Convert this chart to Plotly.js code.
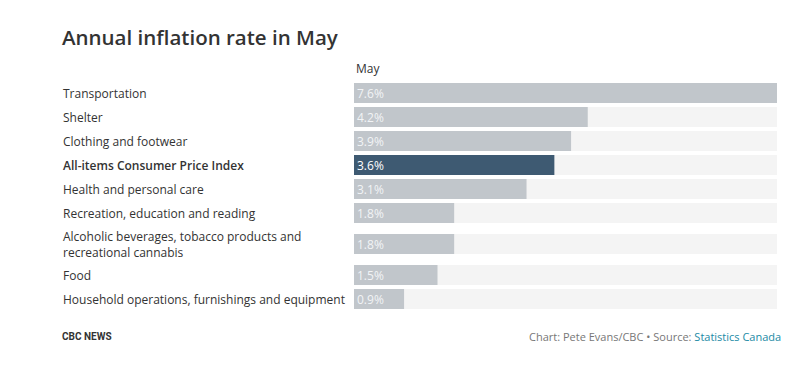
<!DOCTYPE html>
<html>
<head>
<meta charset="utf-8">
<script src="https://cdn.plot.ly/plotly-3.0.1.min.js"></script>
<style>html,body{margin:0;padding:0;background:#fff;}#chart{width:803px;height:378px;}</style>
</head>
<body>
<div id="chart"></div>
<script>
const categories = [
  "Transportation",
  "Shelter",
  "Clothing and footwear",
  "All-items Consumer Price Index",
  "Health and personal care",
  "Recreation, education and reading",
  "Alcoholic beverages, tobacco products and<br>recreational cannabis",
  "Food",
  "Household operations, furnishings and equipment"
];
const values = [7.6, 4.2, 3.9, 3.6, 3.1, 1.8, 1.8, 1.5, 0.9];
const highlight = "All-items Consumer Price Index";
const seriesName = "May";

// layout helpers: row heights by number of label lines
const rowH = categories.map(c => 24 + 14 * (c.split('<br>').length - 1));
const ypos = [];
let acc = 0;
rowH.forEach(h => { ypos.push(acc + h / 2); acc += h; });
const total = acc;
const xMax = Math.max(...values);

const fontFam = '"Open Sans", "Noto Sans", sans-serif';

const bg = {
  type: 'bar', orientation: 'h',
  x: categories.map(() => xMax), y: ypos, width: 20,
  marker: {color: '#f4f4f4'}, hoverinfo: 'skip', showlegend: false
};
const main = {
  type: 'bar', orientation: 'h',
  x: values, y: ypos, width: 20,
  marker: {color: categories.map(c => c === highlight ? '#3e5a72' : '#c1c6cb')},
  text: values.map(v => v.toFixed(1) + '%'),
  textposition: 'inside', insidetextanchor: 'start', constraintext: 'none',
  textfont: {family: fontFam, size: 12, color: categories.map(c => c === highlight ? '#ffffff' : '#f2f4f6')},
  cliponaxis: false, showlegend: false
};

const annotations = categories.map((c, i) => ({
  xref: 'paper', yref: 'y', x: -0.693, y: ypos[i], xanchor: 'left', yanchor: 'middle',
  text: c, showarrow: false, align: 'left',
  font: {family: fontFam, size: 12, color: '#333333', weight: c === highlight ? 600 : 400}
}));
annotations.push({
  xref: 'paper', yref: 'paper', x: 0, y: 1, xanchor: 'left', yanchor: 'bottom', yshift: 2,
  text: seriesName, showarrow: false, font: {family: fontFam, size: 12, color: '#333333'}
});
annotations.push({
  xref: 'paper', yref: 'paper', x: -0.695, y: -0.11, xanchor: 'left', yanchor: 'middle',
  text: '<b>CBC NEWS</b>', showarrow: false, font: {family: '"Liberation Sans Narrow", "Roboto", sans-serif', size: 10, color: '#333333'}
});
annotations.push({
  xref: 'paper', yref: 'paper', x: 1.015, y: -0.11, xanchor: 'right', yanchor: 'middle',
  text: 'Chart: Pete Evans/CBC • Source: <span style="color:#1a8aa5">Statistics Canada</span>', showarrow: false,
  font: {family: fontFam, size: 11, color: '#777777'}
});

const layout = {
  width: 803, height: 378,
  margin: {l: 354, r: 26, t: 81, b: 67},
  paper_bgcolor: '#ffffff', plot_bgcolor: '#ffffff',
  barmode: 'overlay',
  title: {text: 'Annual inflation rate in May', x: 0, xref: 'container', xanchor: 'left', y: 0.9, yanchor: 'middle',
          pad: {l: 62},
          font: {family: '"Open Sans", sans-serif', size: 20.5, weight: 600, color: '#333333'}},
  xaxis: {range: [0, xMax], visible: false, fixedrange: true},
  yaxis: {range: [total, 0], visible: false, fixedrange: true},
  annotations: annotations
};

Plotly.newPlot('chart', [bg, main], layout, {displayModeBar: false, staticPlot: true});
</script>
</body>
</html>
